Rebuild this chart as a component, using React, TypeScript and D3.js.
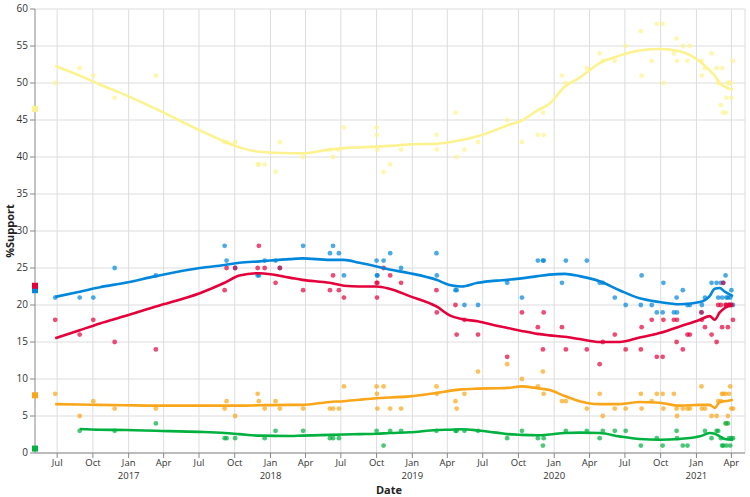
import React, { useEffect, useRef } from 'react';
import * as d3 from 'd3';

// Scottish Parliament election 2016 (constituency vote), shown as squares at the left edge
const electionDate = '2016-05-05';
const endDate = '2021-05-06';
const electionSnp = 46.5;
const electionCon = 22.0;
const electionLab = 22.6;
const electionLd = 7.8;
const electionGrn = 0.6;

// individual polls
const pollDates = [
  '2016-06-26', '2016-08-28', '2016-10-02', '2016-11-26', '2017-03-12',
  '2017-09-05', '2017-09-10', '2017-10-02', '2017-11-29', '2017-12-02',
  '2017-12-17', '2018-01-14', '2018-01-25', '2018-03-26', '2018-06-03',
  '2018-06-11', '2018-06-26', '2018-07-09', '2018-10-01', '2018-10-02',
  '2018-10-03', '2018-10-19', '2018-11-05', '2018-12-03', '2019-03-04',
  '2019-03-05', '2019-04-22', '2019-04-25', '2019-05-15', '2019-06-19',
  '2019-09-02', '2019-10-10', '2019-11-20', '2019-12-03', '2019-12-05',
  '2020-01-21', '2020-01-31', '2020-03-25', '2020-04-27', '2020-05-05',
  '2020-06-05', '2020-07-03', '2020-08-11', '2020-08-13', '2020-09-08',
  '2020-09-21', '2020-10-06', '2020-10-08', '2020-11-04', '2020-11-11',
  '2020-11-12', '2020-11-27', '2020-12-09', '2020-12-15', '2021-01-14',
  '2021-01-15', '2021-01-23', '2021-02-09', '2021-02-22', '2021-02-26',
  '2021-03-05', '2021-03-08', '2021-03-11', '2021-03-17', '2021-03-19',
  '2021-03-23', '2021-03-26', '2021-03-29', '2021-04-01', '2021-04-05',
];
const snpPolls = [
  50, 52, 51, 48, 51, 42, 42, 42, 39, 39, 39, 38, 42, 40, 41, 40, 41, 44, 44, 43,
  41, 38, 39, 41, 43, 41, 46, 40, 41, 42, 45, 42, 43, 46, 43, 51, 50, 52, 54, 53,
  53, 55, 57, 51, 53, 58, 58, 50, 54, 56, 53, 55, 53, 55, 53, 51, 52, 54, 52, 50,
  47, 52, 46, 46, 48, 50, 50, 50, 48, 53,
];
const conPolls = [
  21, 21, 21, 25, 24, 28, 26, 25, 24, 24, 26, 26, 25, 28, 27, 28, 27, 24, 26, 24,
  24, 26, 27, 25, 27, 24, 22, 22, 20, 20, 23, 21, 26, 26, 26, 23, 26, 26, 23, 23,
  21, 20, 20, 24, 20, 19, 19, 23, 19, 21, 19, 22, 20, 20, 19, 20, 21, 23, 23, 21,
  23, 21, 23, 24, 21, 21, 20, 21, 22, 20,
];
const labPolls = [
  18, 16, 18, 15, 14, 22, 25, 25, 25, 28, 25, 23, 25, 22, 22, 24, 22, 21, 23, 21,
  23, 25, 24, 23, 22, 19, 20, 16, 18, 16, 13, 19, 17, 14, 19, 17, 14, 14, 12, 15,
  16, 14, 14, 17, 18, 13, 13, 18, 18, 15, 18, 14, 16, 16, 19, 18, 17, 16, 15, 20,
  20, 17, 23, 20, 20, 17, 20, 20, 20, 18,
];
const ldPolls = [
  8, 5, 7, 6, 6, 6, 7, 5, 8, 7, 6, 7, 6, 6, 6, 6, 6, 9, 9, 8,
  6, 9, 6, 6, 9, 8, 7, 6, 8, 11, 12, 10, 9, 11, 8, 7, 7, 6, 8, 5,
  6, 6, 8, 6, 7, 8, 8, 6, 8, 6, 5, 6, 6, 6, 9, 6, 6, 5, 5, 7,
  7, 8, 8, 8, 4, 5, 8, 9, 6, 6,
];
const grnPolls = [
  null, 3, null, 3, 4, 2, 2, 2, null, null, 2, 3, null, 3, 2, 2, 2, null, 3, null,
  null, 1, 3, 3, 3, null, 3, 3, 3, 3, 2, 3, 2, 1, 2, null, 3, 3, 2, 3,
  3, 3, 1, null, null, 2, 1, null, null, 3, 2, 1, 1, null, null, null, 3, 2, 3, 3,
  2, 1, 1, 4, 1, 4, 2, 1, 2, 2,
];

// smoothed trend at these dates
const trendDates = [
  '2016-06-26', '2016-08-28', '2016-10-19', '2016-12-23', '2017-03-12',
  '2017-07-03', '2017-09-05', '2017-10-13', '2017-12-04', '2018-02-19',
  '2018-03-24', '2018-06-02', '2018-07-09', '2018-08-18', '2018-10-01',
  '2018-11-03', '2018-12-25', '2019-03-04', '2019-04-07', '2019-05-08',
  '2019-06-18', '2019-08-06', '2019-09-03', '2019-10-09', '2019-11-19',
  '2019-12-20', '2020-01-28', '2020-03-06', '2020-04-27', '2020-06-17',
  '2020-08-08', '2020-09-28', '2020-11-19', '2021-01-10', '2021-02-04',
  '2021-02-17', '2021-03-02', '2021-03-15', '2021-04-05',
];
const snpTrend = [
  52.3, 51.0, 49.8, 48.4, 46.5, 43.6, 42.1, 41.3, 40.7, 40.5,
  40.5, 41.0, 41.2, 41.3, 41.4, 41.5, 41.7, 41.8, 42.0, 42.3,
  42.8, 43.7, 44.3, 44.9, 46.3, 47.2, 49.5, 50.7, 52.7, 53.7,
  54.4, 54.6, 54.3, 52.9, 51.7, 51.0, 50.0, 49.5, 49.1,
];
const conTrend = [
  21.1, 21.8, 22.4, 23.0, 23.9, 25.0, 25.4, 25.7, 25.9, 26.2,
  26.3, 26.1, 26.1, 25.7, 25.2, 24.8, 24.3, 23.4, 22.7, 22.5,
  23.0, 23.3, 23.4, 23.6, 23.9, 24.1, 24.2, 23.9, 23.2, 22.0,
  20.9, 20.4, 20.1, 20.4, 21.2, 22.2, 22.3, 21.8, 21.2,
];
const labTrend = [
  15.5, 16.6, 17.5, 18.5, 19.8, 21.6, 23.0, 24.0, 24.3, 23.7,
  23.4, 23.0, 22.6, 22.5, 22.5, 22.2, 21.2, 19.8, 18.6, 18.1,
  17.8, 17.2, 16.9, 16.5, 16.1, 15.9, 15.7, 15.4, 15.0, 15.0,
  15.6, 16.2, 17.1, 18.0, 18.5, 18.0, 19.0, 19.6, 20.1,
];
const ldTrend = [
  6.6, 6.55, 6.5, 6.45, 6.4, 6.4, 6.4, 6.4, 6.45, 6.5,
  6.5, 6.9, 7.0, 7.2, 7.4, 7.5, 7.65, 8.1, 8.4, 8.6,
  8.7, 8.75, 8.8, 9.0, 8.75, 8.5, 7.7, 7.0, 6.6, 6.6,
  6.9, 6.8, 6.4, 6.5, 6.5, 6.1, 6.9, 7.0, 7.2,
];
const grnTrend = [
  null, 3.25, 3.15, 3.1, 3.0, 2.85, 2.7, 2.55, 2.35, 2.3,
  2.35, 2.45, 2.5, 2.55, 2.6, 2.7, 2.8, 3.1, 3.15, 3.2,
  3.05, 2.75, 2.55, 2.45, 2.4, 2.5, 2.7, 2.75, 2.7, 2.25,
  1.9, 1.8, 1.9, 2.25, 2.7, 2.6, 2.25, 1.9, 1.8,
];

const parties = [
  { name: 'SNP', color: '#FDF38E', polls: snpPolls, trend: snpTrend, result: electionSnp },
  { name: 'Conservative', color: '#0087DC', polls: conPolls, trend: conTrend, result: electionCon },
  { name: 'Labour', color: '#E4003B', polls: labPolls, trend: labTrend, result: electionLab },
  { name: 'Liberal Democrats', color: '#FAA61A', polls: ldPolls, trend: ldTrend, result: electionLd },
  { name: 'Green', color: '#00B140', polls: grnPolls, trend: grnTrend, result: electionGrn },
];

const yTicks = [0, 5, 10, 15, 20, 25, 30, 35, 40, 45, 50, 55, 60];

const PollChart = () => {
  const ref = useRef<SVGSVGElement>(null);

  useEffect(() => {
    const width = 750;
    const height = 497;
    const left = 35, right = 745, top = 9, bottom = 453;
    const font = '"Open Sans", "DejaVu Sans", sans-serif';

    const svg = d3.select(ref.current)
      .attr('width', width)
      .attr('height', height);
    svg.selectAll('*').remove();

    const parse = d3.timeParse('%Y-%m-%d');
    const x = d3.scaleTime()
      .domain([parse(electionDate)!, parse(endDate)!])
      .range([left, right]);
    const y = d3.scaleLinear().domain([0, 60]).range([bottom, top]);

    const xTicks = x.ticks(d3.timeMonth.every(3)!);

    // grid
    const grid = svg.append('g');
    grid.selectAll('.hg')
      .data(yTicks)
      .enter()
      .append('line')
      .attr('x1', left).attr('x2', right)
      .attr('y1', d => y(d)).attr('y2', d => y(d))
      .attr('stroke', '#ddd').attr('stroke-width', 1);
    grid.selectAll('.vg')
      .data(xTicks)
      .enter()
      .append('line')
      .attr('x1', d => x(d)).attr('x2', d => x(d))
      .attr('y1', top).attr('y2', bottom)
      .attr('stroke', '#ddd').attr('stroke-width', 1);
    grid.append('line')
      .attr('x1', right).attr('x2', right)
      .attr('y1', top).attr('y2', bottom)
      .attr('stroke', '#ddd');

    // poll dots
    const dates = pollDates.map(d => parse(d)!);
    parties.forEach(p => {
      const pts = p.polls
        .map((v, i) => ({ date: dates[i], value: v }))
        .filter(d => d.value !== null);
      svg.append('g')
        .selectAll('circle')
        .data(pts)
        .enter()
        .append('circle')
        .attr('cx', d => x(d.date))
        .attr('cy', d => y(d.value as number))
        .attr('r', 2.4)
        .attr('fill', p.color)
        .attr('opacity', 0.7);
    });

    // trend lines
    const tDates = trendDates.map(d => parse(d)!);
    parties.forEach(p => {
      const line = d3.line<number | null>()
        .defined(v => v !== null)
        .x((_, i) => x(tDates[i]))
        .y(v => y(v as number))
        .curve(d3.curveMonotoneX);
      svg.append('path')
        .attr('d', line(p.trend))
        .attr('fill', 'none')
        .attr('stroke', p.color)
        .attr('stroke-width', 2.6)
        .attr('stroke-linejoin', 'round');
    });

    // axes
    const axes = svg.append('g')
      .style('font-family', font)
      .style('font-size', '10px')
      .attr('fill', '#333');

    axes.append('line')
      .attr('x1', left).attr('x2', left)
      .attr('y1', top).attr('y2', bottom)
      .attr('stroke', '#888').attr('stroke-width', 1);
    axes.append('line')
      .attr('x1', left).attr('x2', right)
      .attr('y1', bottom).attr('y2', bottom)
      .attr('stroke', '#888').attr('stroke-width', 1);

    const yt = axes.selectAll('.yt')
      .data(yTicks)
      .enter()
      .append('g')
      .attr('transform', d => `translate(${left}, ${y(d)})`);
    yt.append('line').attr('x1', -5).attr('x2', 0).attr('stroke', '#888');
    yt.append('text')
      .attr('x', -7)
      .attr('dy', '0.32em')
      .attr('text-anchor', 'end')
      .text(d => d);

    const xt = axes.selectAll('.xt')
      .data(xTicks)
      .enter()
      .append('g')
      .attr('transform', d => `translate(${x(d)}, ${bottom})`);
    xt.append('line').attr('y1', 0).attr('y2', 5).attr('stroke', '#888');
    xt.append('text')
      .attr('y', 13)
      .attr('text-anchor', 'middle')
      .style('font-size', '9.5px')
      .text(d => d3.timeFormat('%b')(d));
    // year under each January
    xt.filter(d => d.getMonth() === 0)
      .append('text')
      .attr('y', 26)
      .attr('text-anchor', 'middle')
      .style('font-size', '9.5px')
      .text(d => d3.timeFormat('%Y')(d));

    axes.append('text')
      .attr('x', (left + right) / 2 - 1)
      .attr('y', 494)
      .attr('text-anchor', 'middle')
      .style('font-size', '11px')
      .style('font-weight', 'bold')
      .attr('fill', '#222')
      .text('Date');
    axes.append('text')
      .attr('transform', `translate(14, ${(top + bottom) / 2}) rotate(-90)`)
      .attr('text-anchor', 'middle')
      .style('font-size', '11px')
      .style('font-weight', 'bold')
      .attr('fill', '#222')
      .text('%Support');

    // election result markers
    svg.append('g')
      .selectAll('rect')
      .data(parties)
      .enter()
      .append('rect')
      .attr('x', x(parse(electionDate)!) - 3)
      .attr('y', d => y(d.result) - 3)
      .attr('width', 6)
      .attr('height', 6)
      .attr('fill', d => d.color);
  }, []);

  return <svg ref={ref} style={{ position: 'absolute', left: 0, top: 0 }} />;
};

export default function App() {
  return <PollChart />;
}
